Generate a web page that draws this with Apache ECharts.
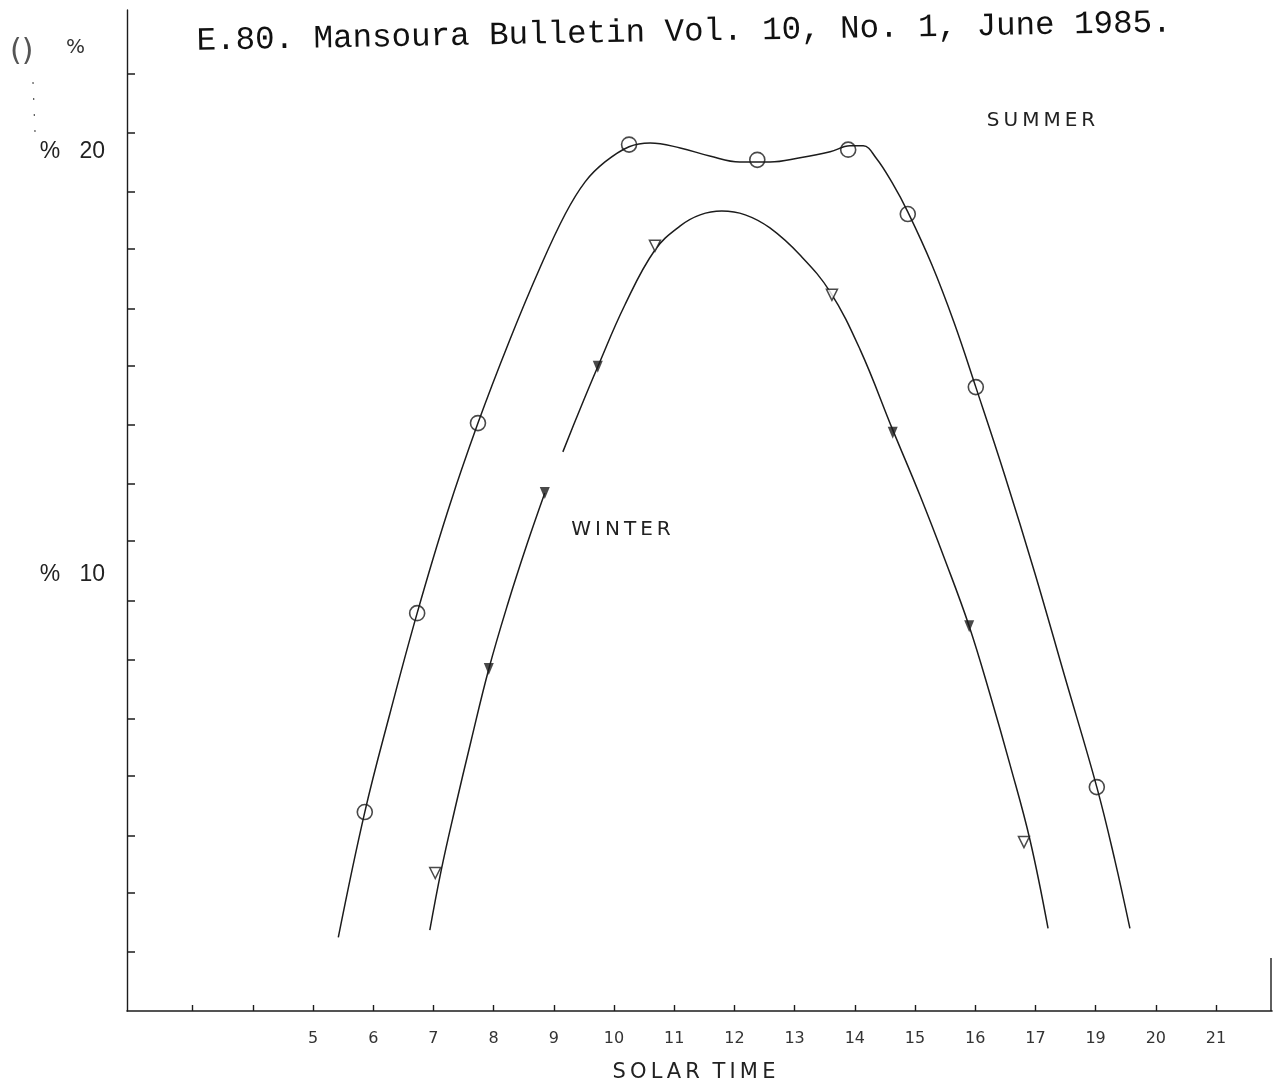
<!DOCTYPE html>
<html>
<head>
<meta charset="utf-8">
<title>Solar time - summer / winter</title>
<script src="https://cdn.jsdelivr.net/npm/echarts@6/dist/echarts.min.js"></script>
<style>
  html, body { margin: 0; padding: 0; background: #fff; }
  #chart { width: 1274px; height: 1089px; }
</style>
</head>
<body>
<div id="chart"></div>
<script>
// x = solar time (hours), y = percent

// tick marks and labels of the axes
var xTickValues = [3, 4, 5, 6, 7, 8, 9, 10, 11, 12, 13, 14, 15, 16, 17, 18, 19, 20];
var xLabelValues = [5, 6, 7, 8, 9, 10, 11, 12, 13, 14, 15, 16, 17, 18, 19, 20];
var xLabelTexts = ["5", "6", "7", "8", "9", "10", "11", "12", "13", "14", "15", "16", "17", "19", "20", "21"];
var yTickValues = [1.1, 2.5, 3.85, 5.25, 6.6, 8.0, 9.4, 10.8, 12.15, 13.55, 14.95, 16.3, 17.7, 19.05, 20.45, 21.85];
var yLabelValues = [10, 20];

// measured points
var summerPts = [
  [5.86, 4.40], [6.73, 9.10], [7.74, 13.59], [10.25, 20.17], [12.38, 19.81],
  [13.89, 20.05], [14.88, 18.53], [16.01, 14.44], [18.02, 4.99]
];
var winterFilledPts = [
  [7.92, 7.78], [8.85, 11.94], [9.73, 14.92], [14.63, 13.36], [15.90, 8.79]
];
var winterOpenPts = [
  [7.03, 2.96], [10.68, 17.78], [13.62, 16.62], [16.81, 3.69]
];

// fitted curves
var summerCurve = [
  [5.42, 1.44], [5.86, 4.40], [6.28, 6.74], [6.73, 9.10], [7.23, 11.47],
  [7.74, 13.59], [8.27, 15.56], [8.77, 17.26], [9.19, 18.53], [9.52, 19.29],
  [9.85, 19.76], [10.25, 20.12], [10.60, 20.21], [11.10, 20.09], [11.59, 19.90],
  [12.09, 19.76], [12.59, 19.76], [13.09, 19.86], [13.59, 20.00], [13.92, 20.14],
  [14.14, 20.14], [14.35, 19.86], [14.62, 19.27], [14.88, 18.58], [15.28, 17.33],
  [15.65, 15.96], [16.01, 14.44], [16.49, 12.36], [16.99, 10.05], [17.49, 7.59],
  [18.02, 4.99], [18.32, 3.26], [18.57, 1.65]
];
var winterCurve = [
  [6.94, 1.61], [7.13, 3.03], [7.36, 4.49], [7.62, 6.05], [7.92, 7.78],
  [8.24, 9.34], [8.55, 10.71], [8.85, 11.94], null,
  [9.15, 12.91], [9.43, 13.90], [9.73, 14.92], [10.18, 16.38], [10.68, 17.68],
  [11.10, 18.25], [11.43, 18.51], [11.79, 18.60], [12.18, 18.51], [12.59, 18.20],
  [13.09, 17.56], [13.59, 16.69], [14.09, 15.32], [14.63, 13.43], [15.08, 11.89],
  [15.50, 10.35], [15.90, 8.79], [16.25, 7.16], [16.58, 5.51], [16.91, 3.74],
  [17.21, 1.65]
];

var ink = "#1c1c1c";
var chart = echarts.init(document.getElementById("chart"));

var option = {
  backgroundColor: "#ffffff",
  animation: false,
  grid: { left: 127, right: 2, top: 10, bottom: 78 },
  xAxis: {
    type: "value",
    min: 1.91,
    max: 20.93,
    axisLine: { onZero: false, lineStyle: { color: ink, width: 1.6 } },
    axisTick: {
      customValues: xTickValues,
      inside: true,
      length: 6,
      lineStyle: { color: ink, width: 1.4 },
    },
    axisLabel: {
      customValues: xLabelValues,
      margin: 20,
      fontFamily: "DejaVu Sans",
      fontSize: 16,
      color: "#333",
      formatter: function (v) {
        var i = xLabelValues.indexOf(Math.round(v));
        return i >= 0 ? xLabelTexts[i] : "";
      },
    },
    splitLine: { show: false },
  },
  yAxis: {
    type: "value",
    min: -0.3,
    max: 23.35,
    axisLine: { show: true, onZero: false, lineStyle: { color: ink, width: 1.4 } },
    axisTick: {
      show: true,
      customValues: yTickValues,
      inside: true,
      length: 8,
      lineStyle: { color: ink, width: 1.5 },
    },
    axisLabel: {
      customValues: yLabelValues,
      margin: 22,
      fontFamily: "Liberation Sans",
      fontSize: 23,
      color: "#222",
      formatter: function (v) {
        return "%   " + v;
      },
    },
    splitLine: { show: false },
  },
  graphic: [
    {
      type: "text",
      x: 684,
      y: 32,
      rotation: 0.0186,
      style: {
        text: "E.80. Mansoura Bulletin Vol. 10, No. 1, June 1985.",
        font: "32.5px 'Liberation Mono'",
        fill: "#111",
        align: "center",
        verticalAlign: "middle",
      },
    },
    {
      type: "text",
      x: 10,
      y: 52,
      style: {
        text: "()",
        font: "30px 'DejaVu Sans'",
        fill: "#555",
        verticalAlign: "middle",
      },
    },
    {
      type: "text",
      x: 66,
      y: 48,
      style: {
        text: "%",
        font: "20px 'DejaVu Sans'",
        fill: "#333",
        verticalAlign: "middle",
      },
    },
    {
      type: "line",
      shape: { x1: 33, y1: 82, x2: 35, y2: 132 },
      style: { stroke: "#555", lineWidth: 1.2, lineDash: [2, 14] },
    },
    {
      // short frame edge at the right end of the time axis
      type: "line",
      shape: { x1: 1271, y1: 958, x2: 1271, y2: 1011 },
      style: { stroke: ink, lineWidth: 1.4 },
    },
    {
      type: "text",
      x: 1041,
      y: 121,
      style: {
        text: "S\u2009U\u2009M\u2009M\u2009E\u2009R",
        font: "20px 'DejaVu Sans'",
        fill: "#222",
        align: "center",
        verticalAlign: "middle",
      },
    },
    {
      type: "text",
      x: 621,
      y: 530,
      style: {
        text: "W\u2009I\u2009N\u2009T\u2009E\u2009R",
        font: "20px 'DejaVu Sans'",
        fill: "#222",
        align: "center",
        verticalAlign: "middle",
      },
    },
    {
      type: "text",
      x: 694,
      y: 1073,
      style: {
        text: "S\u2009O\u2009L\u2009A\u2009R\u2009\u2009\u2009T\u2009I\u2009M\u2009E",
        font: "21px 'DejaVu Sans'",
        fill: "#222",
        align: "center",
        verticalAlign: "middle",
      },
    },
  ],
  series: [
    {
      name: "Summer curve",
      type: "line",
      data: summerCurve,
      smooth: 0.4,
      showSymbol: false,
      connectNulls: false,
      lineStyle: { color: ink, width: 1.5 },
      z: 2,
    },
    {
      name: "Winter curve",
      type: "line",
      data: winterCurve,
      smooth: 0.4,
      showSymbol: false,
      connectNulls: false,
      lineStyle: { color: ink, width: 1.5 },
      z: 2,
    },
    {
      name: "Summer",
      type: "scatter",
      data: summerPts,
      symbol: "circle",
      symbolSize: 15,
      itemStyle: { color: "rgba(0,0,0,0)", borderColor: ink, borderWidth: 1.6 },
      z: 3,
    },
    {
      name: "Winter",
      type: "scatter",
      data: winterFilledPts,
      symbol: "triangle",
      symbolRotate: 180,
      symbolSize: [10, 12],
      itemStyle: { color: ink },
      z: 3,
    },
    {
      name: "Winter (open)",
      type: "scatter",
      data: winterOpenPts,
      symbol: "triangle",
      symbolRotate: 180,
      symbolSize: [11, 11],
      itemStyle: { color: "#fff", borderColor: ink, borderWidth: 1.5 },
      z: 3,
    },
  ],
};

chart.setOption(option);
window.onresize = function () {
  chart.resize();
};
</script>
</body>
</html>
